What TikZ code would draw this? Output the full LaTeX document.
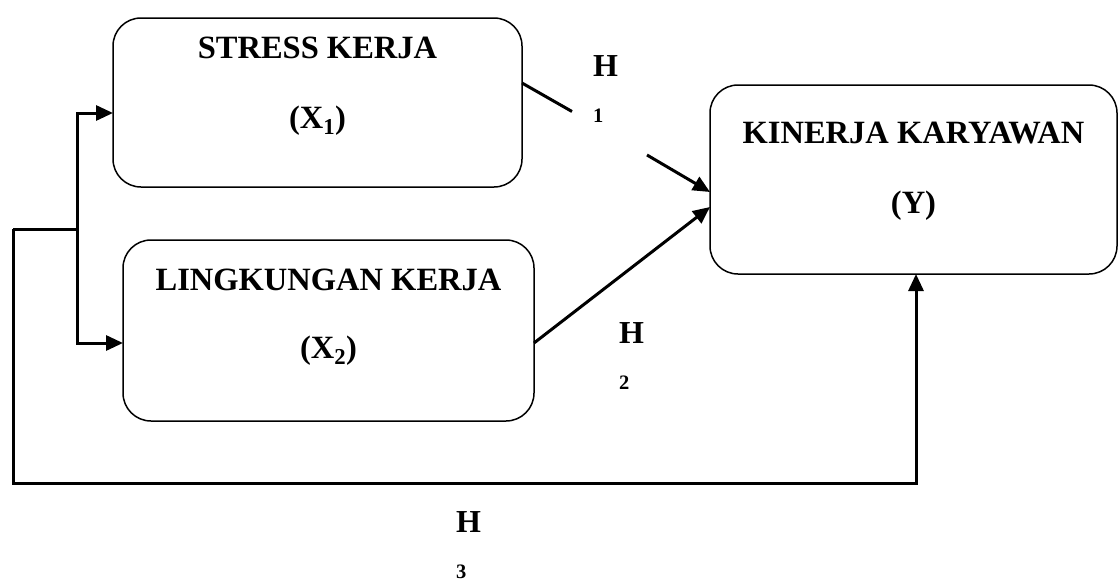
\documentclass[tikz,border=0pt]{standalone}
\usepackage{fontspec}
\setmainfont{Liberation Serif}
\usetikzlibrary{arrows.meta,calc}
\tikzset{
  box/.style={draw, line width=1.5pt, rounded corners=28pt, outer sep=0pt, inner sep=0pt},
  title/.style={anchor=base, inner sep=0pt, font=\fontsize{32.5}{38}\selectfont\bfseries},
  hlab/.style={anchor=base west, inner sep=0pt, font=\fontsize{32}{38}\selectfont\bfseries},
  hsub/.style={anchor=base west, inner sep=0pt, font=\fontsize{20.5}{24}\selectfont\bfseries},
  conn/.style={line width=3pt},
  tip/.style={-{Triangle[length=17pt,width=15pt]}}
}
\begin{document}
\begin{tikzpicture}[x=1pt,y=-1pt]
\useasboundingbox (0,0) rectangle (1119,581);
% boxes
\node[box, minimum width=409pt, minimum height=169pt] (x1) at (317.5,102.5) {};
\node[box, minimum width=411pt, minimum height=181pt] (x2) at (328.5,330.5) {};
\node[box, minimum width=407pt, minimum height=189pt] (y) at (913.5,179.5) {};
% texts
\node[title] (t1) at (317.5,58) {STRESS KERJA};
\node[title] (s1) at (317.5,128) {(X\textsubscript{1})};
\node[title] (t2) at (328.5,290) {LINGKUNGAN KERJA};
\node[title] (s2) at (328.5,358) {(X\textsubscript{2})};
\node[title] (t3) at (913.5,143) {KINERJA KARYAWAN};
\node[title] (s3) at (913.5,213) {(Y)};
% hypothesis labels
\node[hlab] (h1) at (593,76) {H};
\node[hsub] (h1n) at (593,122) {1};
\node[hlab] (h2) at (619,343) {H};
\node[hsub] (h2n) at (619,389) {2};
\node[hlab] (h3) at (456,532) {H};
\node[hsub] (h3n) at (456,578.5) {3};
% junctions
\coordinate (j) at (77,229);
\coordinate (l) at (13,229);
\coordinate (b) at (13,483);
\coordinate (g1) at (572,111.5);
\coordinate (g2) at (647,155);
% connectors
\draw[conn] (l) -- (j);
\draw[conn, tip] (j) |- ([yshift=-10.5pt]x1.west);
\draw[conn, tip] (j) |- ([yshift=-12.5pt]x2.west);
\draw[conn] ([yshift=19.5pt]x1.east) -- (g1);
\draw[conn, tip] (g2) -- ([yshift=-12.5pt]y.west);
\draw[conn, tip] ([yshift=-12.5pt]x2.east) -- ([yshift=-27.5pt]y.west);
\draw[conn, tip] (l) -- (b) -| ([xshift=2.5pt]y.south);
\end{tikzpicture}
\end{document}
